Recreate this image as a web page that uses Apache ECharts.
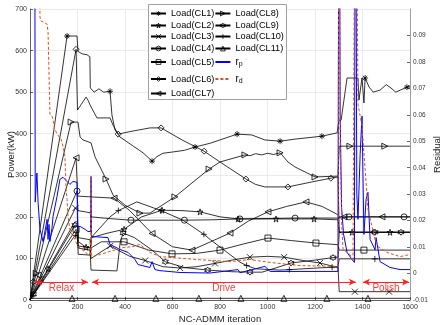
<!DOCTYPE html>
<html>
<head>
<meta charset="utf-8">
<script src="https://cdn.jsdelivr.net/npm/echarts@6/dist/echarts.min.js"></script>
<style>
  html, body { margin: 0; padding: 0; background: #fff; }
  #chart { width: 443px; height: 325px; }
</style>
</head>
<body>
<div id="chart"></div>
<script>
// x ticks / axis ranges
const xTicks = [0, 200, 400, 600, 800, 1000, 1200, 1400, 1600]
const powerTicks = [0, 100, 200, 300, 400, 500, 600, 700]
const residualRange = [-0.01, 0.1]

// load curves: [iteration, kW]
const cl1 = [[0,0],[156,635],[198,635],[202,598],[220,592],[240,590],[252,585],[254,510],[270,500],[290,508],[310,500],[337,502],[345,445],[358,409],[379,392],[476,354],[514,334],[535,345],[560,353],[600,356],[650,360],[695,368],[758,377],[872,399],[934,397],[989,385],[1053,382],[1116,387],[1229,394],[1293,402],[1301,433],[1310,433],[1335,534],[1381,534],[1385,481],[1398,534],[1406,474],[1411,534],[1428,512],[1445,500],[1474,505],[1500,518],[1520,510],[1540,500],[1587,512],[1600,515]]
const cl2 = [[0,0],[76,75],[189,188],[200,188],[204,140],[236,127],[255,125],[260,150],[320,160],[396,170],[470,200],[556,216],[640,215],[716,212],[800,200],[876,195],[1036,195],[1196,195],[1297,193],[1302,163],[1356,163],[1516,163],[1600,163]]
const cl3 = [[0,0],[44,51],[191,221],[200,221],[203,150],[253,145],[257,100],[338,130],[420,105],[485,95],[560,80],[632,77],[700,80],[779,88],[860,97],[926,103],[1000,105],[1070,103],[1150,95],[1221,89],[1297,78],[1302,20],[1368,20],[1512,20],[1600,20]]
const cl4 = [[0,0],[198,262],[200,262],[202,215],[253,210],[257,200],[330,196],[425,192],[540,192],[650,192],[770,193],[884,195],[1000,196],[1116,197],[1297,197],[1302,200],[1343,200],[1575,200],[1600,200]]
const cl5 = [[0,0],[194,170],[200,170],[203,130],[257,125],[300,140],[396,140],[500,120],[598,111],[700,112],[800,120],[900,135],[1002,149],[1100,143],[1204,137],[1297,133],[1302,120],[1406,120],[1600,120]]
const cl6 = [[0,0],[14,44],[194,603],[198,603],[200,457],[215,470],[236,488],[245,480],[253,469],[282,438],[337,438],[350,420],[371,399],[420,405],[505,414],[552,414],[640,385],[733,358],[800,332],[909,291],[950,278],[989,272],[1086,272],[1187,284],[1267,293],[1297,296],[1302,163],[1448,163],[1600,163]]
const cl7 = [[0,0],[34,60],[194,342],[199,342],[201,250],[257,248],[354,245],[420,215],[514,160],[600,128],[682,120],[760,140],[842,161],[920,190],[1002,212],[1080,225],[1162,236],[1230,225],[1297,205],[1302,200],[1322,200],[1482,200],[1600,200]]
const cl8 = [[0,0],[26,64],[173,428],[202,428],[211,392],[223,385],[257,378],[274,344],[295,320],[320,291],[350,252],[400,228],[463,209],[505,209],[610,248],[754,315],[800,332],[905,349],[926,347],[950,352],[975,349],[1000,353],[1025,350],[1053,354],[1061,349],[1086,332],[1116,320],[1200,296],[1297,298],[1302,370],[1347,370],[1494,370],[1600,370]]
const cl9 = [[0,0],[15,14],[189,180],[200,180],[203,125],[253,120],[257,72],[366,70],[380,140],[392,161],[440,150],[514,120],[570,92],[650,78],[748,72],[850,68],[926,67],[977,67],[1040,78],[1099,89],[1200,96],[1276,102],[1297,103],[1302,163],[1453,163],[1562,163],[1600,163]]
const cl10 = [[0,0],[12,10],[189,155],[192,155],[200,155],[203,110],[253,108],[257,150],[337,200],[372,215],[450,236],[552,215],[644,192],[732,158],[760,145],[884,91],[912,83],[950,75],[1050,72],[1092,73],[1150,75],[1272,79],[1297,80],[1302,99],[1452,99],[1600,99]]
const cl11 = [[0,4],[177,4],[358,4],[530,4],[711,4],[888,4],[1069,4],[1250,4],[1423,4],[1600,4]]

// iterations where a marker is drawn
const cl1Marks = [156,337,514,695,872,1053,1229,1411,1587]
const cl2Marks = [76,236,396,556,716,876,1036,1196,1356,1516]
const cl3Marks = [44,191,338,485,632,779,926,1070,1221,1368,1512]
const cl4Marks = [198,425,650,884,1116,1343,1575]
const cl5Marks = [194,396,598,800,1002,1204,1406]
const cl6Marks = [14,194,371,552,733,909,1086,1267,1448]
const cl7Marks = [34,194,354,514,682,842,1002,1162,1322,1482]
const cl8Marks = [26,173,320,463,610,754,905,1053,1200,1347,1494]
const cl9Marks = [15,189,392,570,748,926,1099,1276,1453,1562]
const cl10Marks = [12,192,372,552,732,912,1092,1272,1452]
const cl11Marks = [177,358,530,711,888,1069,1250,1423]

// residuals: [iteration, value]
const rp = [[0,0.5],[20,0.15],[22,0.027],[29,0.038],[34,0.027],[42,0.0167],[55,0.0121],[72,0.0205],[76,0.0129],[80,0.0186],[84,0.0121],[93,0.0174],[97,0.0216],[114,0.0292],[126,0.0356],[139,0.0364],[156,0.0348],[168,0.0337],[181,0.0348],[198,0.0345],[200,0.0178],[211,0.0178],[232,0.0167],[244,0.0159],[255,0.0159],[257,0.0367],[259,0.014],[328,0.0136],[337,0.011],[379,0.0091],[413,0.008],[442,0.0053],[455,0.0034],[505,0.0023],[514,0.0045],[526,0.0015],[547,0.0011],[632,0.0004],[758,0.0002],[876,0.0015],[884,0.0003],[989,0.0027],[1011,0.0008],[1137,0.0008],[1297,0.0008],[1301,0.2],[1306,0.06],[1312,0.025],[1320,0.015],[1335,0.008],[1356,0.0053],[1366,0.0042],[1370,0.2],[1376,0.03],[1381,0.0205],[1390,0.045],[1398,0.0595],[1406,0.0148],[1415,0.028],[1423,0.0307],[1432,0.0129],[1453,0.009],[1457,0.0136],[1474,0.0045],[1495,0.0034],[1516,0.0023],[1558,0.0015],[1600,0.0015]]
const rd = [[0,0.5],[40,0.15],[42,0.097],[46,0.0955],[72,0.0943],[76,0.0913],[84,0.0602],[93,0.0595],[105,0.0545],[114,0.0527],[131,0.0508],[139,0.0481],[147,0.0443],[152,0.0318],[156,0.028],[160,0.0216],[168,0.0167],[177,0.0148],[189,0.0129],[202,0.0102],[219,0.0091],[244,0.0072],[255,0.0072],[257,0.0367],[259,0.0072],[265,0.0064],[295,0.0072],[324,0.008],[349,0.0087],[392,0.0098],[434,0.0102],[463,0.011],[505,0.008],[547,0.0064],[589,0.0061],[703,0.0053],[842,0.0045],[926,0.0053],[1011,0.0042],[1137,0.003],[1297,0.0027],[1301,0.2],[1306,0.05],[1312,0.02],[1318,0.0091],[1347,0.0072],[1360,0.0045],[1368,0.004],[1370,0.2],[1381,0.064],[1398,0.0557],[1411,0.0394],[1423,0.0242],[1440,0.0178],[1453,0.0129],[1465,0.0102],[1503,0.008],[1558,0.0064],[1600,0.0072]]

// phase arrows
const phases = [
  { name: 'Relax', from: 21, to: 244 },
  { name: 'Drive', from: 261, to: 1372 },
  { name: 'Polish', from: 1402, to: 1596 }
]
const arrowLevel = 43

const SYM = {
  asterisk: 'path://M5 0L5 10M0 5L10 5M1.5 1.5L8.5 8.5M8.5 1.5L1.5 8.5',
  pentagram: 'path://M5 0L6.12 3.46L9.76 3.46L6.81 5.59L7.94 9.05L5 6.9L2.06 9.05L3.19 5.59L0.24 3.46L3.88 3.46Z',
  hexagram: 'path://M5 0L6.44 2.5L9.33 2.5L7.89 5L9.33 7.5L6.44 7.5L5 10L3.56 7.5L0.67 7.5L2.11 5L0.67 2.5L3.56 2.5Z',
  cross: 'path://M0 0L10 10M10 0L0 10',
  plus: 'path://M5 0L5 10M0 5L10 5'
}

const loads = [
  { name: 'Load(CL1)', data: cl1, marks: cl1Marks, symbol: SYM.asterisk, rot: 0 },
  { name: 'Load(CL2)', data: cl2, marks: cl2Marks, symbol: SYM.pentagram, rot: 0 },
  { name: 'Load(CL3)', data: cl3, marks: cl3Marks, symbol: SYM.cross, rot: 0 },
  { name: 'Load(CL4)', data: cl4, marks: cl4Marks, symbol: 'circle', rot: 0 },
  { name: 'Load(CL5)', data: cl5, marks: cl5Marks, symbol: 'rect', rot: 0 },
  { name: 'Load(CL6)', data: cl6, marks: cl6Marks, symbol: 'diamond', rot: 0 },
  { name: 'Load(CL7)', data: cl7, marks: cl7Marks, symbol: 'triangle', rot: 90 },
  { name: 'Load(CL8)', data: cl8, marks: cl8Marks, symbol: 'triangle', rot: -90 },
  { name: 'Load(CL9)', data: cl9, marks: cl9Marks, symbol: SYM.hexagram, rot: 0 },
  { name: 'Load(CL10)', data: cl10, marks: cl10Marks, symbol: SYM.plus, rot: 0 },
  { name: 'Load(CL11)', data: cl11, marks: cl11Marks, symbol: 'triangle', rot: 0 }
]

const hollow = { color: 'rgba(255,255,255,0)', borderColor: '#000', borderWidth: 0.8 }

const series = loads.map(l => ({
  name: l.name,
  type: 'line',
  yAxisIndex: 0,
  symbol: l.symbol,
  symbolSize: 6,
  symbolRotate: l.rot,
  showSymbol: true,
  showAllSymbol: true,
  lineStyle: { color: '#000', width: 0.8 },
  itemStyle: hollow,
  data: l.data.map(p => l.marks.includes(p[0]) ? { value: p } : { value: p, symbol: 'none' }),
  z: 2
}))

series.push({
  name: 'r_p', type: 'line', yAxisIndex: 1, symbol: 'none', showSymbol: false,
  lineStyle: { color: '#0000ff', width: 1 }, itemStyle: { color: '#0000ff' },
  data: rp, z: 3
})
series.push({
  name: 'r_d', type: 'line', yAxisIndex: 1, symbol: 'none', showSymbol: false,
  lineStyle: { color: '#d95319', width: 1, type: [3, 2] }, itemStyle: { color: '#d95319' },
  data: rd, z: 4
})

// phase arrows as mark lines
series.push({
  name: 'phases', type: 'line', yAxisIndex: 0, data: [], z: 5,
  markLine: {
    silent: true,
    animation: false,
    symbol: ['arrow', 'arrow'],
    symbolSize: [5, 7],
    lineStyle: { color: '#ff2020', width: 1, type: 'solid' },
    label: {
      show: true, position: 'insideMiddleBottom', formatter: '{b}',
      color: '#ff3a3a', fontSize: 10, fontFamily: 'Liberation Sans', distance: 1
    },
    data: phases.map(ph => [
      { name: ph.name, coord: [ph.from, arrowLevel] },
      { coord: [ph.to, arrowLevel] }
    ])
  }
})

const legendRows = [
  { top: 9, names: ['Load(CL1)', 'Load(CL8)'] },
  { top: 21, names: ['Load(CL2)', 'Load(CL9)'] },
  { top: 32, names: ['Load(CL3)', 'Load(CL10)'] },
  { top: 44, names: ['Load(CL4)', 'Load(CL11)'] },
  { top: 57, names: ['Load(CL5)', 'r_p'] },
  { top: 74, names: ['Load(CL6)', 'r_d'] },
  { top: 89, names: ['Load(CL7)'] }
]

const legends = legendRows.map(r => ({
  left: 150, top: r.top, orient: 'horizontal', padding: 0,
  itemWidth: 15, itemHeight: 6, itemGap: 0,
  selectedMode: false,
  itemStyle: hollow,
  data: r.names.map(n => n.startsWith('r_') ? { name: n, itemStyle: { opacity: 0 } } : n),
  formatter: name => {
    if (name === 'r_p') return '{r|r}{s|p}'
    if (name === 'r_d') return '{r|r}{s|d}'
    return name
  },
  textStyle: {
    color: '#000', fontSize: 9.2, fontFamily: 'Liberation Sans',
    rich: {
      r: { fontSize: 10, fontFamily: 'Liberation Sans', color: '#000', lineHeight: 12 },
      s: { fontSize: 7, fontFamily: 'Liberation Sans', color: '#000', lineHeight: 6, verticalAlign: 'bottom' }
    }
  },
  z: 6
}))

const axisGray = '#404040'

const chart = echarts.init(document.getElementById('chart'), null, { renderer: 'canvas' })
chart.setOption({
  animation: false,
  backgroundColor: '#fff',
  grid: { left: 30, right: 33, top: 9, bottom: 25, containLabel: false, outerBoundsMode: 'none' },
  graphic: [{
    type: 'rect', z: 5,
    shape: { x: 148.5, y: 4.5, width: 138, height: 95 },
    style: { fill: '#fff', stroke: '#a0a0a0', lineWidth: 1 }
  }],
  legend: legends,
  xAxis: {
    type: 'value', min: xTicks[0], max: xTicks[xTicks.length - 1], interval: 200,
    name: 'NC-ADMM iteration', nameLocation: 'middle', nameGap: 14, nameMoveOverlap: false,
    nameTextStyle: { color: '#262626', fontSize: 9.5, fontFamily: 'Liberation Sans' },
    axisLine: { lineStyle: { color: axisGray, width: 0.8 } },
    axisTick: { inside: true, length: 3, lineStyle: { color: axisGray, width: 0.8 } },
    axisLabel: { color: '#333', fontSize: 7, fontFamily: 'Liberation Sans', margin: 4, formatter: v => String(v) },
    splitLine: { show: true, lineStyle: { color: '#ebebeb', width: 1 } }
  },
  yAxis: [{
    type: 'value', min: powerTicks[0], max: powerTicks[powerTicks.length - 1], interval: 100,
    name: 'Power(kW)', nameLocation: 'middle', nameGap: 14, nameRotate: 90, nameMoveOverlap: false,
    nameTextStyle: { color: '#262626', fontSize: 9.5, fontFamily: 'Liberation Sans' },
    axisLine: { show: true, lineStyle: { color: axisGray, width: 0.8 } },
    axisTick: { show: true, inside: true, length: 3, lineStyle: { color: axisGray, width: 0.8 } },
    axisLabel: { color: '#333', fontSize: 7, fontFamily: 'Liberation Sans', margin: 3 },
    splitLine: { show: true, lineStyle: { color: '#ebebeb', width: 1 } }
  }, {
    type: 'value', min: residualRange[0], max: residualRange[1], interval: 0.01,
    position: 'right',
    name: 'Residual', nameLocation: 'middle', nameGap: 22, nameRotate: 90, nameMoveOverlap: false,
    nameTextStyle: { color: '#262626', fontSize: 9.5, fontFamily: 'Liberation Sans' },
    axisLine: { show: true, lineStyle: { color: '#8c8c8c', width: 0.8 } },
    axisTick: { show: true, inside: true, length: 3, lineStyle: { color: axisGray, width: 0.8 } },
    axisLabel: {
      color: '#333', fontSize: 6.5, fontFamily: 'Liberation Sans', margin: 3,
      showMaxLabel: false,
      formatter: v => String(Math.round(v * 100) / 100)
    },
    splitLine: { show: false }
  }],
  series: series
})
</script>
</body>
</html>
